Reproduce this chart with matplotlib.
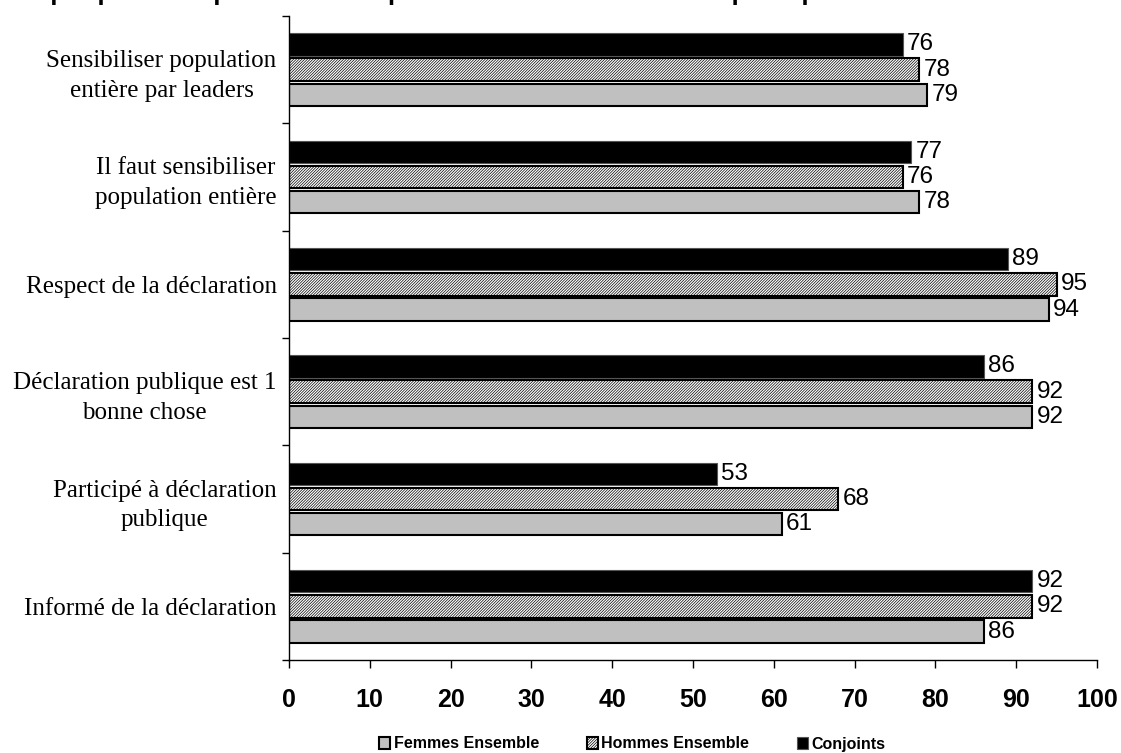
import numpy as np
import matplotlib
matplotlib.use("Agg")
import matplotlib.pyplot as plt

# categories from bottom to top
categories = [
    "Informé de la déclaration",
    "Participé à déclaration\npublique",
    "Déclaration publique est 1\nbonne chose",
    "Respect de la déclaration",
    "Il faut sensibiliser\npopulation entière",
    "Sensibiliser population\nentière par leaders",
]
femmes = [86, 61, 92, 94, 78, 79]
hommes = [92, 68, 92, 95, 76, 78]
conjoints = [92, 53, 86, 89, 77, 76]
xticks = [0, 10, 20, 30, 40, 50, 60, 70, 80, 90, 100]
title = "Graphique 15 : Opinions des répondants sur la déclaration publique"

plt.rcParams["hatch.linewidth"] = 0.5

fig = plt.figure(figsize=(11.21, 7.53), dpi=100)
ax = fig.add_axes([289 / 1121, 1 - 660 / 753, (1097 - 289) / 1121, (660 - 16) / 753])

y = np.arange(len(categories))
off = 0.235
h = 0.21

b1 = ax.barh(y - off, femmes, h, color="#C0C0C0", edgecolor="black", linewidth=1.5,
             label="Femmes Ensemble")
b2 = ax.barh(y, hommes, h, color="white", edgecolor="black", linewidth=1.5,
             hatch="/" * 12, label="Hommes Ensemble")
b3 = ax.barh(y + off, conjoints, h, color="black", edgecolor="#555555", linewidth=0.8,
             label="Conjoints")

for bars in (b1, b2, b3):
    ax.bar_label(bars, padding=3, fontsize=17.5, family="Liberation Sans")

ax.set_xlim(0, 100)
ax.set_ylim(-0.5, len(categories) - 0.5)
ax.set_xticks(xticks)
ax.set_xticklabels([str(t) for t in xticks], fontsize=18, fontweight="bold",
                   family="Liberation Sans")
ax.tick_params(axis="x", direction="out", length=6, width=1, pad=14)

ax.set_yticks(y)
ax.set_yticklabels(categories, fontsize=18, family="Liberation Serif")
for lab in ax.get_yticklabels():
    lab.set_multialignment("center")
    lab.set_linespacing(1.45)
ax.set_yticks(np.arange(-0.5, len(categories), 1.0), minor=True)
ax.tick_params(axis="y", which="major", length=0, pad=9)
ax.tick_params(axis="y", which="minor", direction="out", length=5, width=1)

ax.spines["top"].set_visible(False)
ax.spines["right"].set_visible(False)
ax.spines["left"].set_linewidth(1)
ax.spines["bottom"].set_linewidth(1)

fig.text(6 / 1121, 1.0, title, ha="left", va="baseline", fontsize=18.5,
         fontweight="bold", family="Liberation Sans")

fig.legend(handles=[b1, b2, b3], loc="center", bbox_to_anchor=(0.564, 1 - 744 / 753),
           ncol=3, frameon=False, handlelength=0.7, handleheight=0.7,
           handletextpad=0.2, columnspacing=3.0,
           prop={"family": "Liberation Sans", "weight": "bold", "size": 11.5})

fig.savefig("out.png", dpi=100)
